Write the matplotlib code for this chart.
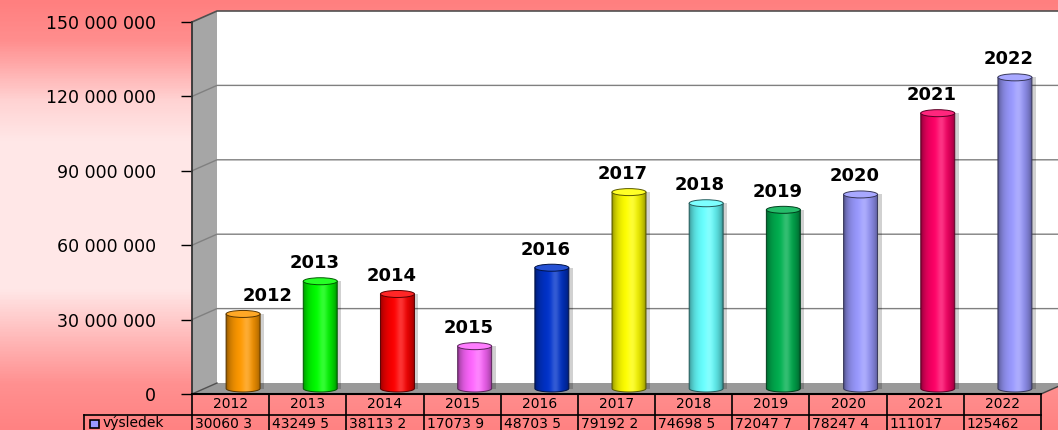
import numpy as np
import matplotlib
matplotlib.use("Agg")
import matplotlib.pyplot as plt
from matplotlib.patches import Polygon, Ellipse, Rectangle
from matplotlib.colors import to_rgb, LinearSegmentedColormap

# --- data ---
years = ["2012", "2013", "2014", "2015", "2016", "2017",
         "2018", "2019", "2020", "2021", "2022"]
values = [30060300, 43249500, 38113200, 17073900, 48703500, 79192200,
          74698500, 72047700, 78247400, 111017000, 125462000]
table_text = ["30060 3", "43249 5", "38113 2", "17073 9", "48703 5", "79192 2",
              "74698 5", "72047 7", "78247 4", "111017", "125462"]
bar_colors = ["#FF9900", "#00FF00", "#FF0000", "#FF66FF", "#0033CC", "#FFFF00",
              "#66FFFF", "#00B050", "#9999FF", "#FF0066", "#9999FF"]
yticks = [0, 30000000, 60000000, 90000000, 120000000, 150000000]
series_name = "výsledek"

W, H = 1058, 430
fig = plt.figure(figsize=(W / 100, H / 100), dpi=100)

# background: salmon -> pale pink -> salmon
bg = fig.add_axes([0, 0, 1, 1], zorder=-10)
stops = [(0, "#FF7F7F"), (40 / H, "#FF8E8E"), (100 / H, "#FFD3D3"),
         (140 / H, "#FFE7E7"), (290 / H, "#FFE7E7"), (340 / H, "#FFB8B8"),
         (385 / H, "#FF9090"), (1, "#FF8282")]
cmap = LinearSegmentedColormap.from_list("bg", stops)
bg.imshow(np.linspace(0, 1, H).reshape(-1, 1), cmap=cmap, aspect="auto")
bg.axis("off")

# plot area (front plane), in pixels
L, R, B, T = 192, 1041, 394, 22
ax = fig.add_axes([L / W, (H - B) / H, (R - L) / W, (B - T) / H])
ax.patch.set_visible(False)
ax.set_autoscale_on(False)
n = len(years)
x0, x1 = -0.5, n - 0.5
ytop = yticks[-1]
ax.set_xlim(x0, x1)
ax.set_ylim(0, ytop)
sx = n / (R - L)           # category units per pixel
sy = ytop / (B - T)        # value units per pixel
DX, DY = 25 * sx, 11 * sy  # 3D depth

# walls and floor
ax.add_patch(Polygon([(x0 + DX, DY), (x1 + DX, DY), (x1 + DX, ytop + DY), (x0 + DX, ytop + DY)],
                     fc="white", ec="none", clip_on=False, zorder=0))
ax.add_patch(Polygon([(x0, 0), (x0 + DX, DY), (x0 + DX, ytop + DY), (x0, ytop)],
                     fc="#A6A6A6", ec="none", clip_on=False, zorder=0.5))
ax.add_patch(Polygon([(x0, 0), (x1, 0), (x1 + DX, DY), (x0 + DX, DY)],
                     fc="#999999", ec="none", clip_on=False, zorder=0.5))
for t in yticks[1:-1]:
    ax.plot([x0, x0 + DX, x1 + DX], [t, t + DY, t + DY], color="#808080", lw=1,
            clip_on=False, zorder=1)
ax.plot([x0, x0 + DX, x1 + DX], [ytop, ytop + DY, ytop + DY], color="#505050", lw=1.2,
        clip_on=False, zorder=1)
ax.plot([x0, x0 + DX], [0, DY], color="#505050", lw=1, clip_on=False, zorder=1)
ax.plot([x1, x1 + DX], [0, DY], color="#404040", lw=1, clip_on=False, zorder=1)

for side in ["top", "right", "bottom"]:
    ax.spines[side].set_visible(False)
ax.spines["left"].set_color("#333333")
ax.spines["left"].set_linewidth(1.3)
ax.set_xticks([])
ax.set_yticks(yticks, labels=[f"{t:,}".replace(",", " ") for t in yticks])
ax.tick_params(axis="y", length=8, width=1, pad=18, labelsize=12.5)

# cylinders
bw = 34 * sx
eh = 7 * sy
tt = np.linspace(0, 1, 64)
k = np.sin(np.pi * tt) ** 0.5
hl = 0.2 * np.exp(-((tt - 0.6) / 0.13) ** 2)
th = np.linspace(np.pi, 2 * np.pi, 40)
base = DY / 2
for i, (v, c) in enumerate(zip(values, bar_colors)):
    cx = i + DX / 2
    rgb = np.array(to_rgb(c))
    img = rgb[None, :] * (0.5 + 0.5 * k[:, None])
    img = img + (1 - img) * hl[:, None]
    dark = rgb * 0.35

    # soft shadow on the wall
    ax.add_patch(Rectangle((cx + bw / 2, base), 4 * sx, v, fc="#000000", alpha=0.18,
                           ec="none", zorder=2))
    bottom = np.column_stack([cx + bw / 2 * np.cos(th), base + eh / 2 * np.sin(th)])
    pts = np.vstack([[cx - bw / 2, base + v], bottom, [cx + bw / 2, base + v]])
    body = Polygon(pts, closed=True, fc="none", ec=dark, lw=0.7, zorder=4)
    ax.add_patch(body)
    im = ax.imshow(img[None, :, :], extent=[cx - bw / 2, cx + bw / 2, base - eh / 2, base + v],
                   aspect="auto", interpolation="bilinear", zorder=3)
    im.set_clip_path(body)
    ax.add_patch(Ellipse((cx, base + v), bw, eh, fc=rgb * 0.85 + 0.15, ec=dark, lw=0.7, zorder=5))

    lx = cx + (25 * sx if i == 0 else -6 * sx)
    ax.text(lx, base + v + 13 * sy, years[i], ha="center", va="baseline",
            fontsize=13, fontweight="bold", zorder=6)

ax.set_xlim(x0, x1)
ax.set_ylim(0, ytop)
ax.set_aspect("auto")

# data table under the floor
tax = fig.add_axes([L / W, 0, (R - L) / W, (H - B) / H])
tax.set_xlim(x0, x1)
tax.set_ylim(H - B, 0)
tax.axis("off")
rh = 21
xl = x0 - (L - 84) * sx
tax.plot([x0, x1], [0, 0], color="black", lw=1.5, clip_on=False)
tax.plot([xl, x1], [rh, rh], color="black", lw=1.2, clip_on=False)
for j in range(n + 1):
    tax.plot([x0 + j, x0 + j], [0, 2 * rh], color="black", lw=1.2, clip_on=False)
tax.plot([xl, xl], [rh, 2 * rh], color="black", lw=1.2, clip_on=False)
for i in range(n):
    tax.text(i, rh / 2, years[i], ha="center", va="center", fontsize=10)
    tax.text(i - 0.5 + 3 * sx, 34.5, table_text[i], ha="left", va="baseline", fontsize=10)
tax.add_patch(Rectangle((xl + 6 * sx, 26), 9 * sx, 8, fc="#9999FF", ec="black", lw=1.2,
                        clip_on=False))
tax.text(xl + 19 * sx, 33, series_name, ha="left", va="baseline", fontsize=10)

fig.savefig("out.png", dpi=100)
